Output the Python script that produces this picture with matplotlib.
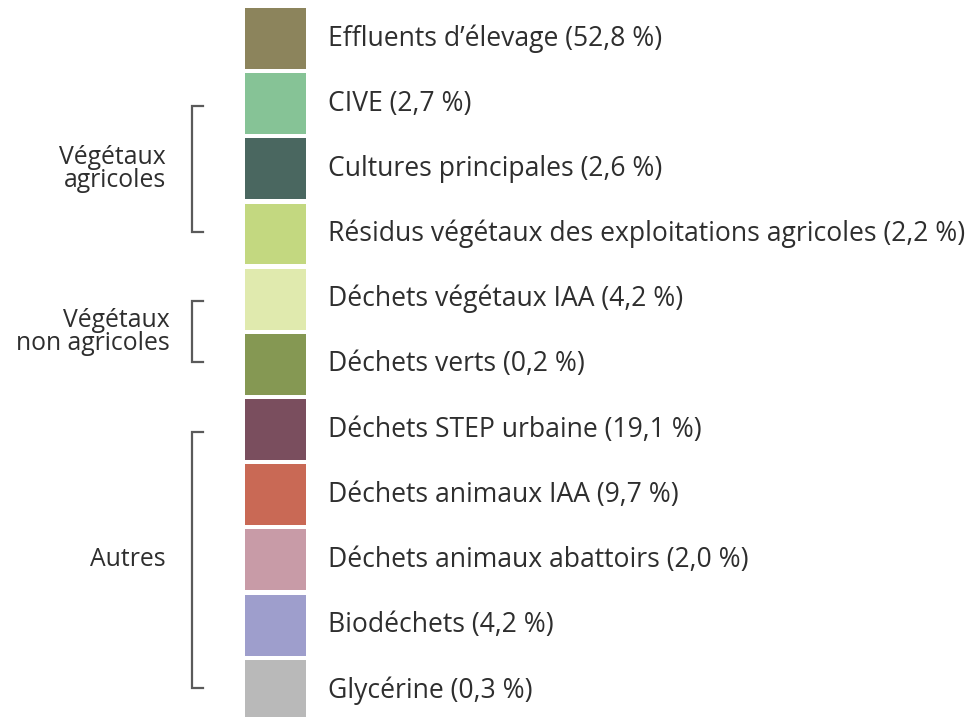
import matplotlib.pyplot as plt

plt.rcParams['font.family'] = ['Open Sans', 'DejaVu Sans']

# legend rows
labels = ["Effluents d\u2019élevage", "CIVE", "Cultures principales",
          "Résidus végétaux des exploitations agricoles",
          "Déchets végétaux IAA", "Déchets verts", "Déchets STEP urbaine",
          "Déchets animaux IAA", "Déchets animaux abattoirs", "Biodéchets",
          "Glycérine"]
shares = [52.8, 2.7, 2.6, 2.2, 4.2, 0.2, 19.1, 9.7, 2.0, 4.2, 0.3]
colors = ["#8c845c", "#86c396", "#4a6760", "#c3d880", "#e0eaae", "#859853",
          "#7a4e5e", "#c96955", "#c89ba7", "#9e9ecc", "#b9b9b9"]

# groups: name, first row, last row
group_names = ["Végétaux\nagricoles", "Végétaux\nnon agricoles", "Autres"]
group_first = [1, 4, 6]
group_last = [3, 5, 10]

text_col = "#2e2e2e"

fig = plt.figure(figsize=(9.71, 7.17), dpi=100)
ax = fig.add_axes([0, 0, 1, 1])
ax.set_xlim(0, 971)
ax.set_ylim(10.41, -0.59)
ax.axis('off')

rows = list(range(len(labels)))
ax.barh(rows, [61] * len(rows), left=245, height=0.935, color=colors)

for i, (lab, v) in enumerate(zip(labels, shares)):
    txt = f"{lab} ({v:.1f} %)".replace(".", ",")
    ax.text(328, i, txt, ha='left', va='center', fontsize=19.1, color=text_col)

# brackets
for name, a, b in zip(group_names, group_first, group_last):
    top = a + 0.03
    bot = b - 0.03
    ax.plot([203, 192, 192, 203], [top, top, bot, bot], color="#5a5a5a",
            lw=1.6, solid_joinstyle='miter')
    xr = 170 if "non" in name else 166
    ax.text(xr, (a + b) / 2, name, ha='right', va='center', fontsize=17.8,
            color=text_col, linespacing=0.92)

fig.savefig("out.png", dpi=100)
